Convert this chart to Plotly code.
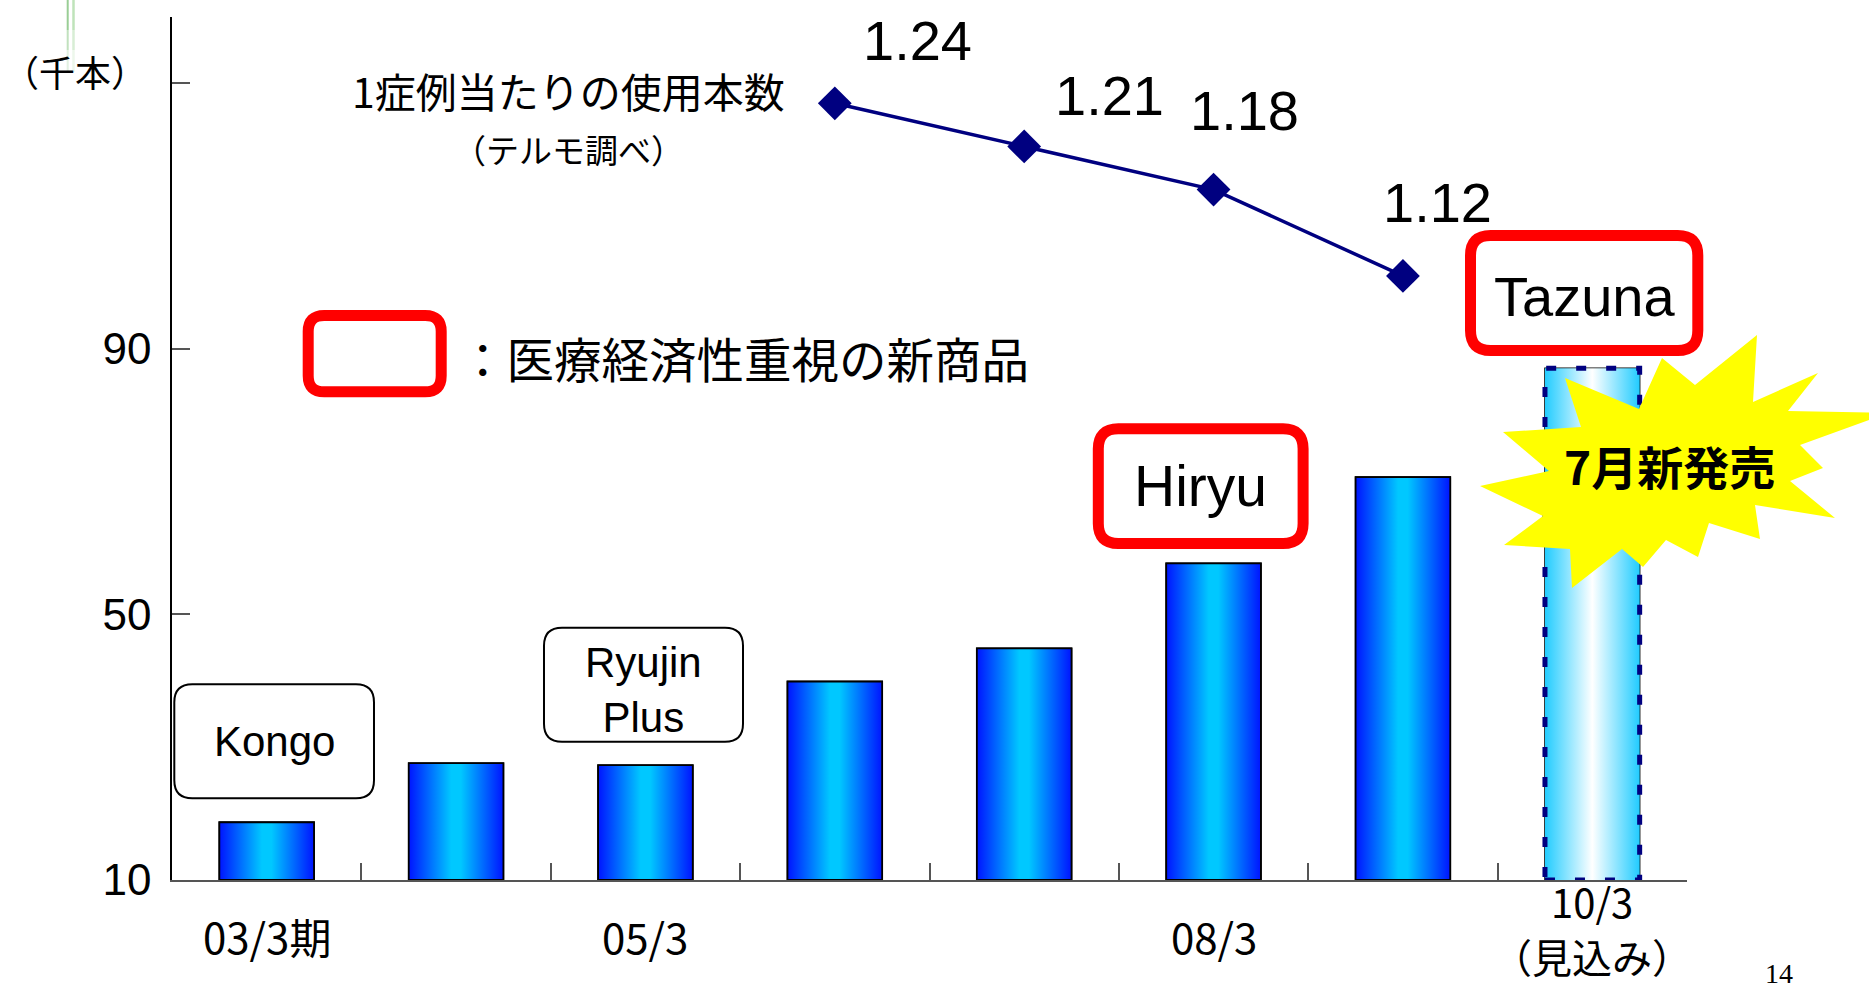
import plotly.graph_objects as go

# ---------------- data ----------------
categories = ["03/3", "04/3", "05/3", "06/3", "07/3", "08/3", "09/3", "10/3"]
x_tick_labels = ["03/3期", "", "05/3", "", "", "08/3", "", "10/3<br>（見込み）"]
bar_values = [18.7, 27.6, 27.3, 39.9, 44.9, 57.7, 70.7, 87.1]   # 千本
forecast_flags = [False, False, False, False, False, False, False, True]

usage_categories = ["06/3", "07/3", "08/3", "09/3"]
usage_values = [1.24, 1.21, 1.18, 1.12]
usage_labels = ["1.24", "1.21", "1.18", "1.12"]

y_tick_vals = [10, 50, 90, 130]
y_tick_text = ["10", "50", "90", ""]

# ---------------- layout geometry (pixels) ----------------
W_FIG, H_FIG = 1869, 989
M_L, M_R, M_T, M_B = 172, 182, 17, 109
PW = W_FIG - M_L - M_R
PH = H_FIG - M_T - M_B
BASE_Y = H_FIG - M_B


def px(x):
    return (x - M_L) / PW


def py(y):
    return (BASE_Y - y) / PH


def rrect(x0, y0, x1, y1, r):
    pts = [
        ("M", [(x0 + r, y0)]), ("L", [(x1 - r, y0)]), ("Q", [(x1, y0), (x1, y0 + r)]),
        ("L", [(x1, y1 - r)]), ("Q", [(x1, y1), (x1 - r, y1)]), ("L", [(x0 + r, y1)]),
        ("Q", [(x0, y1), (x0, y1 - r)]), ("L", [(x0, y0 + r)]), ("Q", [(x0, y0), (x0 + r, y0)]),
    ]
    s = ""
    for cmd, pp in pts:
        s += cmd + " " + " ".join(f"{px(a):.5f},{py(b):.5f}" for a, b in pp) + " "
    return s + "Z"


JP = "Noto Sans CJK JP"
LAT = "Liberation Sans, Arial, " + JP

bar_width = 0.5
xi = list(range(len(categories)))
y_min, y_max = 10, 140

fig = go.Figure()

# real bar trace
fig.add_trace(go.Bar(
    x=xi, y=bar_values, width=bar_width,
    marker=dict(color="#00a0ff", line=dict(color="black", width=1.5)),
    hoverinfo="y",
))

# gradient skin for each bar (same data, same scale)
for i, (v, fc) in enumerate(zip(bar_values, forecast_flags)):
    x0, x1 = i - bar_width / 2, i + bar_width / 2
    if fc:
        cs = [[0, "#22ccff"], [0.5, "#ffffff"], [1, "#22ccff"]]
        ln = dict(color="#000080", width=5, dash="10px,20px")
    else:
        cs = [[0, "#0014ff"], [0.45, "#00c8ff"], [0.55, "#00c8ff"], [1, "#0014ff"]]
        ln = dict(color="black", width=1.8)
    fig.add_trace(go.Scatter(
        x=[x0, x1, x1, x0, x0], y=[y_min, y_min, v, v, y_min],
        mode="lines", fill="toself",
        fillgradient=dict(type="horizontal", colorscale=cs),
        line=ln, hoverinfo="skip",
    ))

# usage line on secondary axis
ux = [categories.index(c) for c in usage_categories]
fig.add_trace(go.Scatter(
    x=ux, y=usage_values, yaxis="y2", mode="lines+markers",
    line=dict(color="#000080", width=3.5),
    marker=dict(symbol="diamond", size=26, color="#000080"),
    hoverinfo="y",
))

annotations = []
label_shift = [(83, 63), (85, 51), (31, 79), (35, 73)]
for x, v, t, (dx, dy) in zip(ux, usage_values, usage_labels, label_shift):
    annotations.append(dict(
        x=x, y=v, xref="x", yref="y2", text=t, showarrow=False,
        xshift=dx, yshift=dy, xanchor="center", yanchor="middle",
        font=dict(family=LAT, size=56, color="black"),
    ))

# category labels (each line placed separately, block centred vertically)
for i, t in enumerate(x_tick_labels):
    if not t:
        continue
    lines = t.split("<br>")
    n = len(lines)
    center_y, gap = (935, 0) if n == 1 else (929, 55)
    for k, ln_txt in enumerate(lines):
        yy = center_y + (k - (n - 1) / 2) * gap
        annotations.append(dict(
            x=i, y=py(yy), xref="x", yref="paper", text=ln_txt, showarrow=False,
            xanchor="center", yanchor="middle",
            font=dict(family=JP, size=42 if n == 1 else 40, color="black"),
        ))

texts = [
    ("Kongo", 274, 741, 42, LAT, "center"),
    ("Ryujin<br>Plus", 643.5, 690, 42, LAT, "center"),
    ("Hiryu", 1200.7, 486, 57, LAT, "center"),
    ("Tazuna", 1584, 297, 56, LAT, "center"),
    ("：医療経済性重視の新商品", 457, 357, 47.5, JP, "left"),
    ("1症例当たりの使用本数", 568, 90, 41, JP, "center"),
    ("（テルモ調べ）", 568, 149, 33, JP, "center"),
    ("（千本）", 75, 71, 36, JP, "center"),
    ("<b>7月新発売</b>", 1669, 465, 46, JP, "center"),
    ("14", 1779, 974, 28, "Liberation Serif, Times New Roman", "center"),
]
for t, x, y, s, f, xa in texts:
    annotations.append(dict(
        x=px(x), y=py(y), xref="paper", yref="paper", text=t, showarrow=False,
        xanchor=xa, yanchor="middle", font=dict(family=f, size=s, color="black"),
    ))

shapes = []
# green decorative lines
for gx, gw, col in [(67.7, 2, "#8fc98a"), (73.5, 2.5, "#b9e0b3")]:
    for y0, y1, op in [(0, 30, 0.9), (30, 50, 0.55), (50, 72, 0.25)]:
        shapes.append(dict(type="line", xref="paper", yref="paper",
                           x0=px(gx), x1=px(gx), y0=py(y0), y1=py(y1),
                           line=dict(color=col, width=gw), opacity=op, layer="above"))

# black rounded callouts
for (x0, y0, x1, y1) in [(174.3, 684.3, 374, 798.3), (544, 627.7, 743, 741.7)]:
    shapes.append(dict(type="path", xref="paper", yref="paper", path=rrect(x0, y0, x1, y1, 18),
                       fillcolor="white", line=dict(color="black", width=2), layer="above"))
# red rounded boxes
for (x0, y0, x1, y1, r) in [(308.2, 315.5, 441.2, 391.8, 16), (1098.3, 428.8, 1303.1, 543.5, 20),
                            (1470.5, 235.5, 1697.8, 350.5, 20)]:
    shapes.append(dict(type="path", xref="paper", yref="paper", path=rrect(x0, y0, x1, y1, r),
                       fillcolor="white", line=dict(color="#ff0000", width=11), layer="above"))

# starburst
star_px = [(1757, 335), (1753, 402), (1818, 373), (1788, 411), (1888, 413), (1800, 445), (1823, 468),
           (1790, 481), (1835, 518), (1755, 505), (1760, 539), (1709, 523), (1698, 557), (1666, 540),
           (1643, 567), (1622, 549), (1572, 588), (1570, 549), (1504, 545), (1543, 516), (1480, 486),
           (1549, 471), (1503, 432), (1581, 427), (1565, 378), (1639, 409), (1662, 358), (1695, 385)]
sp = "M " + " L ".join(f"{px(a):.5f},{py(b):.5f}" for a, b in star_px) + " Z"
shapes.append(dict(type="path", xref="paper", yref="paper", path=sp,
                   fillcolor="#ffff00", line=dict(width=0), layer="above"))

fig.update_layout(
    width=W_FIG, height=H_FIG,
    margin=dict(l=M_L, r=M_R, t=M_T, b=M_B, pad=0),
    paper_bgcolor="white", plot_bgcolor="white",
    showlegend=False,
    xaxis=dict(
        range=[-0.5, len(categories) - 0.5], showgrid=False, zeroline=False,
        showline=True, linecolor="#555555", linewidth=1.5,
        tickmode="array", tickvals=[i - 0.5 for i in range(len(categories) + 1)],
        ticks="inside", ticklen=17, tickcolor="#555555", tickwidth=1.5,
        showticklabels=False,
    ),
    yaxis=dict(
        range=[y_min, y_max], showgrid=False, zeroline=False,
        showline=True, linecolor="black", linewidth=1.5,
        tickmode="array", tickvals=y_tick_vals, ticktext=y_tick_text,
        ticks="inside", ticklen=18, tickcolor="#555555", tickwidth=1.5,
        tickfont=dict(family=LAT, size=44, color="black"),
        ticklabelstandoff=10,
    ),
    yaxis2=dict(range=[0.7, 1.3], overlaying="y", side="right", visible=False),
    annotations=annotations,
    shapes=shapes,
)

fig.write_html("out.html", config={"displayModeBar": False},
               post_script="document.body.style.margin='0px';document.body.style.overflow='hidden';")
